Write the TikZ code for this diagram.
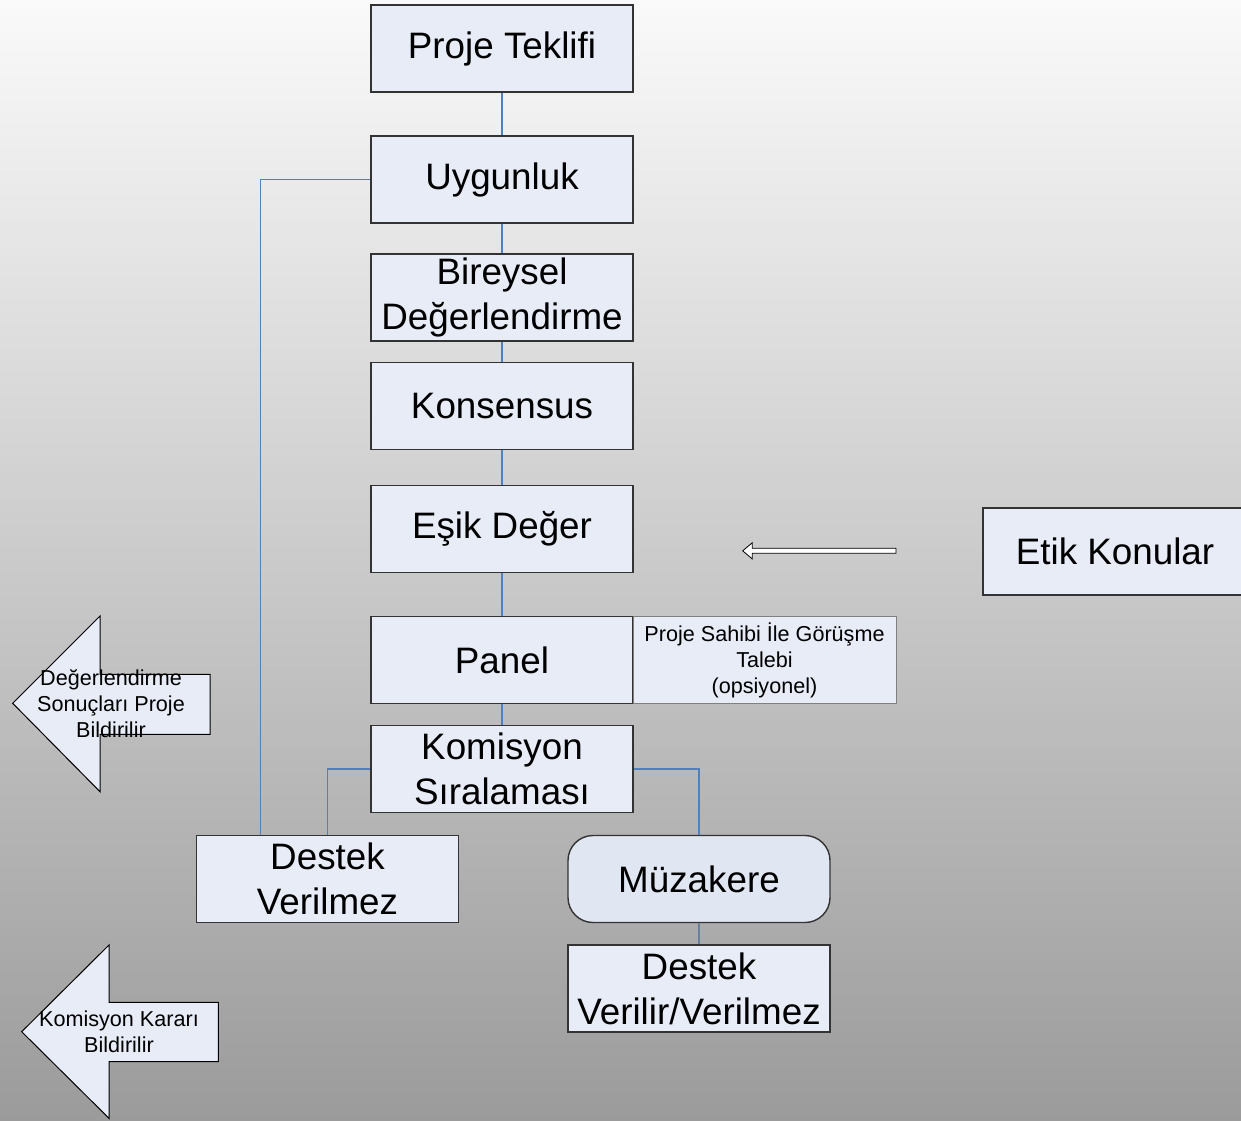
\documentclass[tikz,border=0pt]{standalone}
\usepackage{fontspec}
\setmainfont{Liberation Sans}
\definecolor{boxfill}{RGB}{231,236,247}
\definecolor{muzfill}{RGB}{224,230,242}
\definecolor{linkblue}{RGB}{79,129,189}
\definecolor{bgtop}{RGB}{250,250,250}
\definecolor{bgbot}{RGB}{155,155,155}
\tikzset{
  box/.style={draw=black!80, fill=boxfill, line width=0.7pt, minimum width=131pt,
    minimum height=43.5pt, inner sep=0pt, align=center,
    font=\fontsize{18.4}{22.5}\selectfont},
  smalltext/.style={align=center, inner sep=0pt, font=\fontsize{10.8}{13}\selectfont},
  link/.style={draw=linkblue, line width=0.65pt},
  bigarrow/.style={draw=black, fill=boxfill, line width=0.5pt},
}
\begin{document}
\begin{tikzpicture}[x=0.5pt,y=-0.5pt]
\useasboundingbox (0,0) rectangle (1241,1120);
\clip (0,0) rectangle (1241,1120);
\shade[top color=bgtop, bottom color=bgbot] (0,0) rectangle (1241,1120);

% main column
\node[box] (pt) at (502,48.5) {Proje Teklifi};
\node[box] (uy) at (502,179.5) {Uygunluk};
\node[box] (bd) at (502,297.5) {Bireysel\\Değerlendirme};
\node[box] (ko) at (502,406) {Konsensus};
\node[box] (ed) at (502,529) {Eşik Değer};
\node[box] (pa) at (502,660) {Panel};
\node[box, draw=gray, line width=0.4pt, minimum width=131.5pt,
      font=\fontsize{10.8}{13}\selectfont] (ps) at (764.5,660)
      {Proje Sahibi İle Görüşme\\Talebi\\(opsiyonel)};
\node[box] (ks) at (502,769) {Komisyon\\Sıralaması};
\node[box] (dv) at (327.5,879) {Destek\\Verilmez};
\node[box, fill=muzfill, rounded corners=12.5pt] (mz) at (699,879) {Müzakere};
\node[box] (dvv) at (699,988.5) {Destek\\Verilir/Verilmez};
% Etik Konular box runs past the right edge
\draw[draw=black!80, fill=boxfill, line width=0.7pt] (983,508) rectangle (1280,595);
\node[box, draw=none, fill=none] (ek) at (1115,551.5) {Etik Konular};

% connectors
\draw[link] (pt) -- (uy);
\draw[link] (uy) -- (bd);
\draw[link] (bd) -- (ko);
\draw[link] (ko) -- (ed);
\draw[link] (ed) -- (pa);
\draw[link] (pa) -- (ks);
\draw[link] (uy.west) -| ([xshift=32.5pt]dv.north west);
\draw[link] (ks.west) -| (dv.north);
\draw[link] (ks.east) -| (mz.north);
\draw[link, draw=linkblue!50!gray] (mz) -- (dvv);

% hollow arrow
\draw[fill=white, line width=0.4pt] (742.7,550.8) -- (752.3,542.7) -- (752.3,548.3)
  -- (896,548.3) -- (896,553.3) -- (752.3,553.3) -- (752.3,559) -- cycle;

% left block arrows
\draw[bigarrow] (12.7,703.3) -- (100,616) -- (100,674.3) -- (210,674.3)
  -- (210,734.3) -- (100,734.3) -- (100,791.7) -- cycle;
\node[smalltext] (a1) at (111,704) {Değerlendirme\\Sonuçları Proje\\Bildirilir};
\draw[bigarrow] (21.7,1031.7) -- (109,945) -- (109,1002.3) -- (218.3,1002.3)
  -- (218.3,1061.7) -- (109,1061.7) -- (109,1118.3) -- cycle;
\node[smalltext] (a2) at (119,1032) {Komisyon Kararı\\Bildirilir};
\end{tikzpicture}
\end{document}
